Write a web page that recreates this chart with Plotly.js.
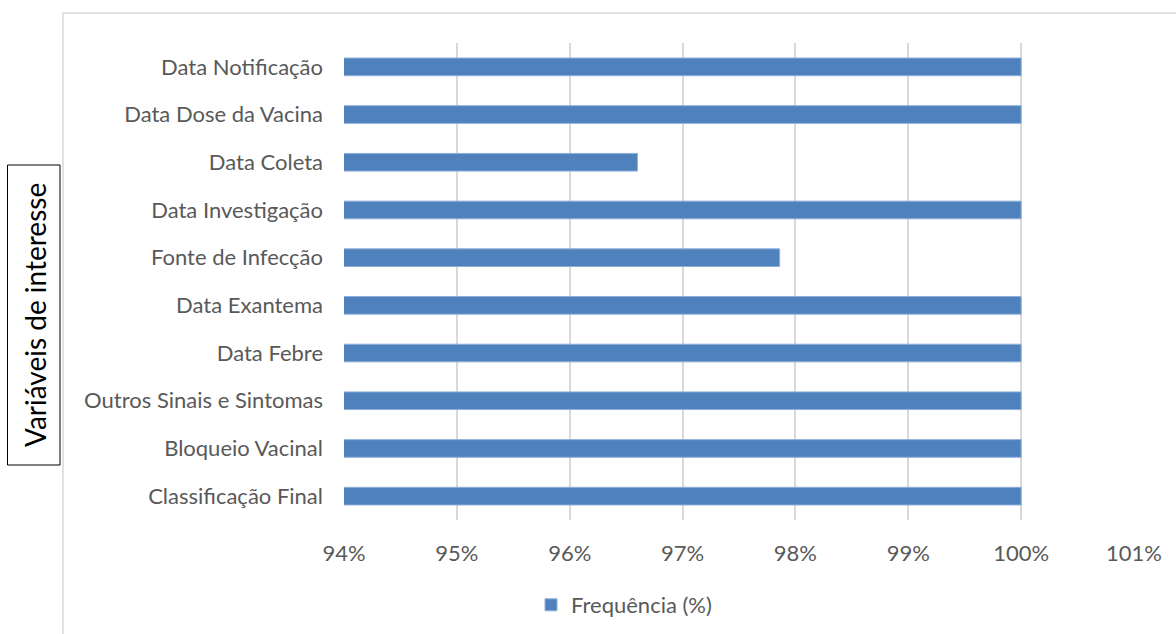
<!DOCTYPE html>
<html>
<head>
<meta charset="utf-8">
<script src="https://cdn.plot.ly/plotly-3.0.1.min.js"></script>
<style>
html,body{margin:0;padding:0;background:#fff;}
#chart{width:1176px;height:634px;}
</style>
</head>
<body>
<div id="chart"></div>
<script>
const categories = [
  "Classificação Final",
  "Bloqueio Vacinal",
  "Outros Sinais e Sintomas",
  "Data Febre",
  "Data Exantema",
  "Fonte de Infecção",
  "Data Investigação",
  "Data Coleta",
  "Data Dose da Vacina",
  "Data Notificação"
];
const frequencia = [100, 100, 100, 100, 100, 97.86, 100, 96.6, 100, 100];
const seriesName = "Frequência (%)";
const yTitle = "Variáveis de interesse";

const FONT = "Lato, Open Sans, sans-serif";
const W = 1176, H = 634;
const L = 344, R = 1134, T = 43, B = 520;
const px = v => (v - L) / (R - L);
const py = v => (B - v) / (B - T);

const trace = {
  type: "bar",
  orientation: "h",
  y: categories,
  x: frequencia,
  name: seriesName,
  marker: {color: "#4f81bd", line: {color: "#8eaedb", width: 1}},
  showlegend: true,
  hoverinfo: "x+y"
};

const layout = {
  width: W, height: H,
  margin: {l: L, r: W - R, t: T, b: H - B, autoexpand: false},
  paper_bgcolor: "#fff", plot_bgcolor: "#fff",
  font: {family: FONT, color: "#595959", size: 22},
  bargap: 0.63,
  xaxis: {
    range: [94, 101], dtick: 1, tick0: 94, ticksuffix: "%",
    showgrid: true, gridcolor: "#d9d9d9", gridwidth: 2,
    zeroline: false, showline: false, automargin: false,
    ticks: "", ticklabelstandoff: 18,
    tickfont: {family: FONT, size: 22, color: "#595959"},
    fixedrange: true
  },
  yaxis: {
    type: "category", automargin: false,
    showgrid: false, zeroline: false, showline: false,
    ticks: "", ticklabelstandoff: 20,
    tickfont: {family: FONT, size: 22, color: "#595959"},
    fixedrange: true
  },
  showlegend: true,
  legend: {
    orientation: "h", xref: "container", yref: "container",
    x: 624 / W, xanchor: "center",
    y: 1 - 605 / H, yanchor: "middle",
    font: {family: FONT, size: 22, color: "#595959"},
    bgcolor: "rgba(0,0,0,0)"
  },
  shapes: [
    {type: "line", xref: "paper", yref: "paper", x0: px(63), x1: px(1180), y0: py(13), y1: py(13), line: {color: "#d9d9d9", width: 1.5}},
    {type: "line", xref: "paper", yref: "paper", x0: px(63), x1: px(63), y0: py(13), y1: py(640), line: {color: "#d9d9d9", width: 1.5}},
    {type: "rect", xref: "paper", yref: "paper", x0: px(7.5), x1: px(60), y0: py(465), y1: py(165), line: {color: "#000", width: 1}, fillcolor: "#fff"}
  ],
  annotations: [
    {text: yTitle, xref: "paper", yref: "paper", x: px(35), y: py(315), xanchor: "center", yanchor: "middle",
     textangle: -90, showarrow: false, font: {family: FONT, size: 28, color: "#000"}}
  ]
};

Plotly.newPlot("chart", [trace], layout, {displayModeBar: false, staticPlot: true});
</script>
</body>
</html>
